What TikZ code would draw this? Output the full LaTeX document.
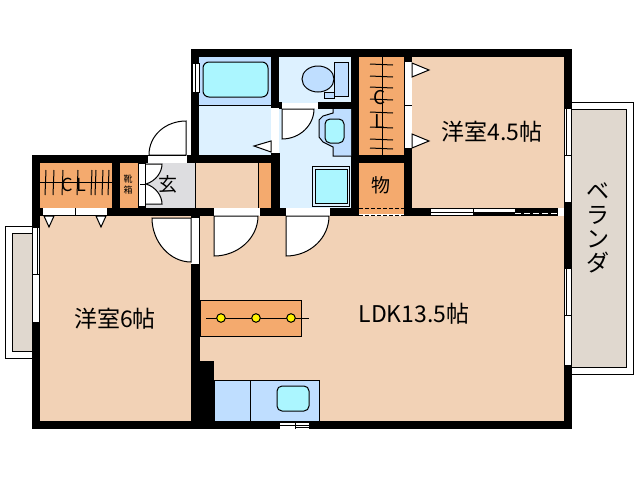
\documentclass[tikz,border=0pt]{standalone}
\usepackage{fontspec}
\newfontfamily\cjk{Noto Sans CJK JP}
\usetikzlibrary{arrows.meta}

\begin{document}
\begin{tikzpicture}[
    x=1pt, y=-1pt,
    line width=1pt,
    wall/.style={fill=black},
    peach/.style={fill=roomPeach},
    glass/.style={draw=black, fill=white, line width=0.8pt},
    fixture/.style={draw=black, fill=floorBlue},
    basin/.style={draw=black, fill=basinCyan, rounded corners=4pt},
    doorleaf/.style={draw=black, fill=white},
    label/.style={inner sep=0pt, text=black, font=\cjk\fontsize{23}{24}\selectfont, align=center}
]
\definecolor{roomPeach}{HTML}{F2D2B6}
\definecolor{storeOrange}{HTML}{F4AA6E}
\definecolor{floorBlue}{HTML}{BFDEFF}
\definecolor{floorLight}{HTML}{DDF1FF}
\definecolor{basinCyan}{HTML}{ABF6FF}
\definecolor{entryGrey}{HTML}{DDDDE0}
\definecolor{balconyGrey}{HTML}{E0D8CF}

\useasboundingbox (0,0) rectangle (638,480);

% --- Floors ---
\fill[peach] (40,216) rectangle (191,421);
\fill[peach] (199,216) rectangle (564,421);
\fill[peach] (412,57) rectangle (564,208);
\fill[peach] (195,163) rectangle (258,208);
\fill[storeOrange] (258,163) rectangle (271,208);
\fill[storeOrange] (359,57) rectangle (404,155);
\fill[storeOrange] (359,163) rectangle (404,214);
\fill[storeOrange] (40,163) rectangle (112,208);
\fill[storeOrange] (120,163) rectangle (138,208);
\fill[entryGrey] (146,163) rectangle (195,208);
\fill[floorLight] (199,105) rectangle (271,155);
\fill[floorBlue] (199,57) rectangle (271,105);
\fill[floorLight] (279,57) rectangle (351,208);
\draw (195,163) -- (195,208);
\draw (258,163) -- (258,208);
\draw (199,105) -- (271,105);

% --- Balconies ---
\draw[fill=white] (32,226) -- (5,226) -- (5,358) -- (32,358);
\draw[fill=balconyGrey] (32,233) -- (12,233) -- (12,351) -- (32,351);
\draw[fill=white] (572,102) -- (633,102) -- (633,374) -- (572,374);
\draw[fill=balconyGrey] (572,109) -- (626,109) -- (626,367) -- (572,367);

% --- Walls ---
\fill[wall] (191,49) rectangle (572,57);
\fill[wall] (191,49) rectangle (199,163);
\fill[wall] (271,57) rectangle (279,108);
\fill[wall] (271,153) rectangle (280,216);
\fill[wall] (351,57) rectangle (359,216);
\fill[wall] (404,57) rectangle (412,216);
\fill[wall] (564,49) rectangle (572,429);
\fill[wall] (318,102) rectangle (351,109);
\fill[wall] (279,102) rectangle (282,109);
\fill[wall] (187,155) rectangle (280,163);
\fill[wall] (351,155) rectangle (412,163);
\fill[wall] (32,155) rectangle (148,163);
\fill[wall] (32,155) rectangle (40,429);
\fill[wall] (112,163) rectangle (120,208);
\fill[wall] (32,208) rectangle (214,216);
\fill[wall] (260,208) rectangle (359,216);
\fill[wall] (404,208) rectangle (558,216);
\fill[wall] (191,216) rectangle (200,421);
\fill[wall] (200,361) rectangle (214,421);
\fill[wall] (32,421) rectangle (572,429);
\fill[wall] (138,163) rectangle (146,208);

% --- Doors, leaves in white ---
\draw[doorleaf] (149,155) .. controls (149,135) and (166,121) .. (186,121) -- (186,155) -- cycle;
\fill[white] (148,155) rectangle (186,162);
\draw (148,155) -- (186,155);
\fill[white] (282,103) rectangle (318,109);
\draw[doorleaf] (282,109) -- (282,139) .. controls (300,139) and (314,125) .. (314,109) -- cycle;
\fill[white] (272,108) rectangle (279,153);
\fill[white] (139,164) rectangle (145,206);
\draw (140,184) -- (146,184);
\draw[doorleaf] (146,164) -- (162,164) .. controls (162,172) and (156,181) .. (146,184) .. controls (156,187) and (162,196) .. (162,204) -- (146,204);
\fill[white] (214,208) rectangle (260,216);
\draw[doorleaf] (214,216) -- (214,256) .. controls (238,256) and (258,238) .. (258,216) -- cycle;
\fill[white] (286,208) rectangle (330,216);
\draw[doorleaf] (286,216) -- (286,256) .. controls (310,256) and (329,238) .. (329,216) -- cycle;
\fill[white] (191,218) rectangle (199,264);
\draw[doorleaf] (191,218) -- (152,218) .. controls (152,242) and (170,262) .. (191,262) -- cycle;
\draw (199,218) -- (199,264);

% --- Folding doors of the closets ---
\fill[white] (405,62) rectangle (412,148);
\draw (404,105) -- (412,105);
\fill[white] (43,208) rectangle (107,215);
\draw (75,208) -- (75,215);
\foreach \ty in {70,141}
    \draw[doorleaf] (412,\ty-7) -- (429,\ty) -- (412,\ty+7) -- cycle;
\foreach \tx in {49,101}
    \draw[doorleaf] (\tx-5,216) -- (\tx,227) -- (\tx+5,216) -- cycle;
\draw[doorleaf] (271,141) -- (254,146) -- (271,152) -- cycle;

% --- Windows ---
\draw[glass] (192,63) rectangle (199,92);
\draw (195,63) -- (195,92);
\foreach \wy/\wz in {108/202,268/365} {
    \draw[glass] (564.5,\wy) rectangle (571.5,\wz);
    \draw[line width=0.8pt] (566.5,\wy) -- (566.5,\wy+48);
    \draw[line width=0.8pt] (564.5,\wy+47) -- (571.5,\wy+47);
}
\draw[glass] (32.5,227) rectangle (39.5,322);
\draw[line width=0.8pt] (37,227) -- (37,274);
\draw[line width=0.8pt] (32.5,274) -- (39.5,274);
\fill[white] (280,423) rectangle (309,429);
\draw (280,425) -- (309,425) (295,423) -- (295,429) (295,427) -- (309,427);
\fill[white] (431,209) rectangle (515,211.5);
\fill[white] (431,212.5) rectangle (473,215);
\draw[white, dash pattern=on 6pt off 3pt, line width=1pt] (515,213.5) -- (558,213.5);
\draw[line width=0.6pt] (473,208) -- (473,216);

% --- Store dashes ---
\draw[dash pattern=on 4pt off 2pt] (359,208) -- (404,208);
\draw[dash pattern=on 4pt off 2pt] (359,215) -- (404,215);

% --- Bath, toilet, wash basin, washer ---
\draw[basin, rounded corners=6pt] (203,62) rectangle (268,97);
\draw[fixture] (334,62) rectangle (348,96);
\draw[fixture] (318,79) ellipse [x radius=16, y radius=13];
\draw[fixture] (324,92) rectangle (334,98);
\fill[floorBlue] (333,109) -- (351,109) -- (351,156) -- (333,156) -- (333,147) -- (323,142) -- (319,137) -- (319,120) -- (323,116) -- (333,113) -- cycle;
\draw (351,156) -- (333,156) -- (333,147) -- (323,142) -- (319,137) -- (319,120) -- (323,116) -- (333,113) -- (333,109);
\draw[basin, rounded corners=5pt] (325,119) rectangle (344,143);
\draw[draw=black, fill=floorLight] (312,166) rectangle (349,206);
\draw[draw=black, fill=basinCyan] (315,169) rectangle (347,203);

% --- Island counter and kitchen ---
\draw[fill=storeOrange] (200,300) rectangle (301,336);
\draw (206,318) -- (309,318);
\foreach \dotx in {221,256,291}
    \draw[fill=yellow] (\dotx,318) circle (4.3);
\draw[fixture] (214,380) rectangle (319,421);
\draw (250,380) -- (250,421);
\draw[basin, rounded corners=5pt] (277,386) rectangle (309,411);

% --- Closet rails and hangers ---
\draw (382,57) -- (382,155);
\foreach \hy in {64,76,87,99,112,127,139,148}
    \draw (370,\hy) -- (393,\hy+1);
\draw (40,182) -- (112,182);
\foreach \hx in {45,53,62,77,91,95,102,108}
    \draw (\hx+1,170) -- (\hx,195);

% --- Labels ---
\node[label] (bedWest) at (115,319) {洋室6帖};
\node[label] (ldk) at (414,314) {LDK13.5帖};
\node[label] (bedEast) at (492,132) {洋室4.5帖};
\node[label] (veranda) at (598,228) {ベ\\ラ\\ン\\ダ};
\node[label, font=\cjk\fontsize{19}{21}\selectfont] (store) at (381,185) {物};
\node[label, font=\cjk\fontsize{19}{21}\selectfont] (entry) at (168,184) {玄};
\node[label, font=\cjk\fontsize{9}{11}\selectfont] (shoes) at (128,185) {靴\\箱};
\node[label, font=\cjk\fontsize{19}{24}\selectfont] (closetEast) at (380,109) {C\\L};
\node[label, font=\cjk\fontsize{18}{20}\selectfont] (closetWest) at (74,185) {C\,L};

\end{tikzpicture}
\end{document}
